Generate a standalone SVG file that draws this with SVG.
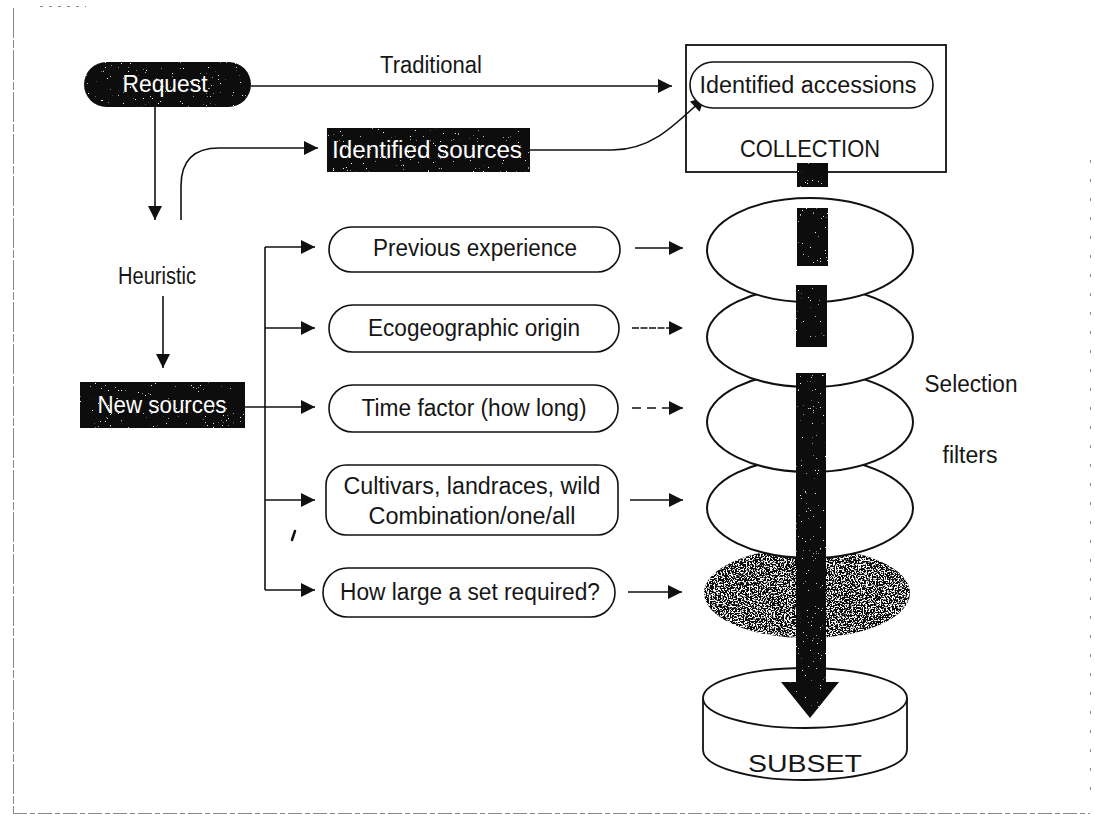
<svg xmlns="http://www.w3.org/2000/svg" width="1095" height="819" viewBox="0 0 1095 819">
  <style>
    text { font-family: "Liberation Sans", "Open Sans", sans-serif; fill: #161616; }
    .lbl { font-size: 23px; text-anchor: middle; }
    .inv { font-size: 23px; text-anchor: middle; fill: #fff; }
    .pill { fill: #fff; stroke: #111; stroke-width: 1.6; }
    .dark { fill: #0a0a0a; }
    .filt { fill: #fff; stroke: #111; stroke-width: 2; }
    .wire { fill: none; stroke: #111; stroke-width: 1.6; }
    .page { fill: none; stroke: #8a8a8a; stroke-width: 1; }
  </style>
  <defs>
    <marker id="tri" viewBox="0 0 10 10" refX="10" refY="5" markerWidth="19" markerHeight="14" markerUnits="userSpaceOnUse" orient="auto">
      <path d="M0,0 L10,5 L0,10 Z" fill="#111"/>
    </marker>
    <!-- sparse white flecks on solid black shapes -->
    <filter id="grain" x="0" y="0" width="1" height="1">
      <feTurbulence type="fractalNoise" baseFrequency="0.6" numOctaves="2" seed="7" result="n"/>
      <feColorMatrix in="n" type="matrix" values="0 0 0 0 1  0 0 0 0 1  0 0 0 0 1  18 0 0 0 -13.3" result="w"/>
      <feComposite in="w" in2="SourceAlpha" operator="in" result="wc"/>
      <feMerge><feMergeNode in="SourceGraphic"/><feMergeNode in="wc"/></feMerge>
    </filter>
    <!-- dense stipple for the last filter disc -->
    <filter id="stipple" x="0" y="0" width="1" height="1">
      <feTurbulence type="fractalNoise" baseFrequency="0.65" numOctaves="2" seed="11" result="n"/>
      <feColorMatrix in="n" type="matrix" values="0 0 0 0 1  0 0 0 0 1  0 0 0 0 1  12 0 0 0 -6.1" result="w"/>
      <feComposite in="w" in2="SourceAlpha" operator="in" result="wc"/>
      <feMerge><feMergeNode in="SourceGraphic"/><feMergeNode in="wc"/></feMerge>
    </filter>
  </defs>

  <rect width="1095" height="819" fill="#fff"/>

  <!-- page edges -->
  <g id="page">
    <line class="page" x1="13.5" y1="8" x2="13.5" y2="813" stroke-dasharray="30 2 8 2"/>
    <line class="page" x1="13" y1="813.5" x2="1090" y2="813.5" stroke="#b0b0b0" stroke-dasharray="14 3 5 3"/>
    <line class="page" x1="1090.5" y1="160" x2="1090.5" y2="805" stroke="#d6d6d6" stroke-dasharray="3 16"/>
    <line class="page" x1="40" y1="6.5" x2="86" y2="6.5" stroke="#aaa" stroke-dasharray="3 6"/>
  </g>

  <!-- connectors -->
  <g id="connectors">
    <path class="wire" d="M251,86 H672" marker-end="url(#tri)"/>
    <path class="wire" d="M155,107 V220" marker-end="url(#tri)"/>
    <path class="wire" d="M181,220 V186 Q181,148 219,148 H318" marker-end="url(#tri)"/>
    <path class="wire" d="M530,150 H612 C650,150 672,128 705,97" marker-end="url(#tri)"/>
    <path class="wire" d="M163,296 V368" marker-end="url(#tri)"/>
    <path class="wire" d="M265,247 V590"/>
    <path class="wire" d="M265,247 H315" marker-end="url(#tri)"/>
    <path class="wire" d="M265,328 H315" marker-end="url(#tri)"/>
    <path class="wire" d="M245,407 H315" marker-end="url(#tri)"/>
    <path class="wire" d="M265,500 H315" marker-end="url(#tri)"/>
    <path class="wire" d="M265,590 H315" marker-end="url(#tri)"/>
    <path class="wire" d="M635,248 H683" marker-end="url(#tri)"/>
    <path class="wire" d="M632,328 H683" stroke-width="1.2" stroke-dasharray="7 1.5" marker-end="url(#tri)"/>
    <path class="wire" d="M632,408 H683" stroke-dasharray="9 6" marker-end="url(#tri)"/>
    <path class="wire" d="M630,500 H683" marker-end="url(#tri)"/>
    <path class="wire" d="M628,592 H682" marker-end="url(#tri)"/>
    <text class="lbl" x="431" y="73" font-size="21" textLength="102" lengthAdjust="spacingAndGlyphs">Traditional</text>
  </g>

  <!-- request and source nodes -->
  <g id="request">
    <rect class="dark" x="84" y="62" width="167" height="45" rx="22.5" filter="url(#grain)"/>
    <text class="inv" x="165" y="92" font-size="21" textLength="85" lengthAdjust="spacingAndGlyphs">Request</text>
  </g>
  <g id="heuristic">
    <text class="lbl" x="157" y="284" font-size="22" textLength="78" lengthAdjust="spacingAndGlyphs">Heuristic</text>
  </g>
  <g id="identified-sources">
    <rect class="dark" x="327" y="128" width="203" height="44" filter="url(#grain)"/>
    <text class="inv" x="427" y="158" font-size="24" textLength="190" lengthAdjust="spacingAndGlyphs">Identified sources</text>
  </g>
  <g id="new-sources">
    <rect class="dark" x="80" y="382" width="165" height="46" filter="url(#grain)"/>
    <text class="inv" x="162" y="413" font-size="24" textLength="129" lengthAdjust="spacingAndGlyphs">New sources</text>
  </g>

  <!-- collection -->
  <g id="collection">
    <rect x="686" y="45" width="260" height="127" fill="none" stroke="#111" stroke-width="1.8"/>
    <text class="lbl" x="810" y="157" font-size="25" textLength="140" lengthAdjust="spacingAndGlyphs">COLLECTION</text>
  </g>
  <g id="identified-accessions">
    <rect class="pill" x="690" y="62" width="243" height="46" rx="23"/>
    <text class="lbl" x="808" y="93" font-size="24" textLength="217" lengthAdjust="spacingAndGlyphs">Identified accessions</text>
  </g>

  <!-- criteria -->
  <g id="previous-experience">
    <rect class="pill" x="329" y="227" width="291" height="45" rx="22.5"/>
    <text class="lbl" x="475" y="256" textLength="204" lengthAdjust="spacingAndGlyphs">Previous experience</text>
  </g>
  <g id="ecogeographic-origin">
    <rect class="pill" x="329" y="305" width="290" height="47" rx="23.5"/>
    <text class="lbl" x="474" y="336" textLength="212" lengthAdjust="spacingAndGlyphs">Ecogeographic origin</text>
  </g>
  <g id="time-factor">
    <rect class="pill" x="329" y="385" width="289" height="47" rx="23.5"/>
    <text class="lbl" x="474" y="416" textLength="225" lengthAdjust="spacingAndGlyphs">Time factor (how long)</text>
  </g>
  <g id="material-type">
    <rect class="pill" x="326" y="465" width="292" height="70" rx="20"/>
    <text class="lbl" x="472" y="494" textLength="257" lengthAdjust="spacingAndGlyphs">Cultivars, landraces, wild</text>
    <text class="lbl" x="472" y="524" textLength="207" lengthAdjust="spacingAndGlyphs">Combination/one/all</text>
  </g>
  <g id="set-size">
    <rect class="pill" x="323" y="568" width="292" height="49" rx="24.5"/>
    <text class="lbl" x="470" y="600" textLength="260" lengthAdjust="spacingAndGlyphs">How large a set required?</text>
  </g>
  <path d="M295,531 L292,540" stroke="#111" stroke-width="2.5" stroke-linecap="round"/>

  <!-- selection filters, stacked from the bottom up -->
  <g id="selection-filters">
    <ellipse class="dark" cx="807" cy="593" rx="103" ry="45" filter="url(#stipple)"/>
    <ellipse class="filt" cx="810" cy="508" rx="103" ry="50"/>
    <ellipse class="filt" cx="810" cy="422" rx="103" ry="50"/>
    <ellipse class="filt" cx="810" cy="337" rx="103" ry="50"/>
    <ellipse class="filt" cx="810" cy="250" rx="103" ry="52"/>
    <text class="lbl" x="971" y="392" textLength="93" lengthAdjust="spacingAndGlyphs">Selection</text>
    <text class="lbl" x="970" y="463" textLength="55" lengthAdjust="spacingAndGlyphs">filters</text>
  </g>

  <!-- subset -->
  <g id="subset">
    <path d="M703,698 V750 A102,30 0 0 0 907,750 V698" fill="#fff" stroke="#111" stroke-width="1.8"/>
    <ellipse cx="805" cy="698" rx="102" ry="30" fill="#fff" stroke="#111" stroke-width="1.8"/>
    <text class="lbl" x="805" y="772" font-size="33" textLength="114" lengthAdjust="spacingAndGlyphs">SUBSET</text>
  </g>

  <!-- flow through the collection -->
  <g id="flow" filter="url(#grain)">
    <rect class="dark" x="797" y="163" width="31" height="24"/>
    <rect class="dark" x="797" y="208" width="31" height="58"/>
    <rect class="dark" x="796" y="285" width="31" height="62"/>
    <path class="dark" d="M796,373 H826 V682 H839 L810,718 L781,682 H796 Z"/>
  </g>
</svg>
